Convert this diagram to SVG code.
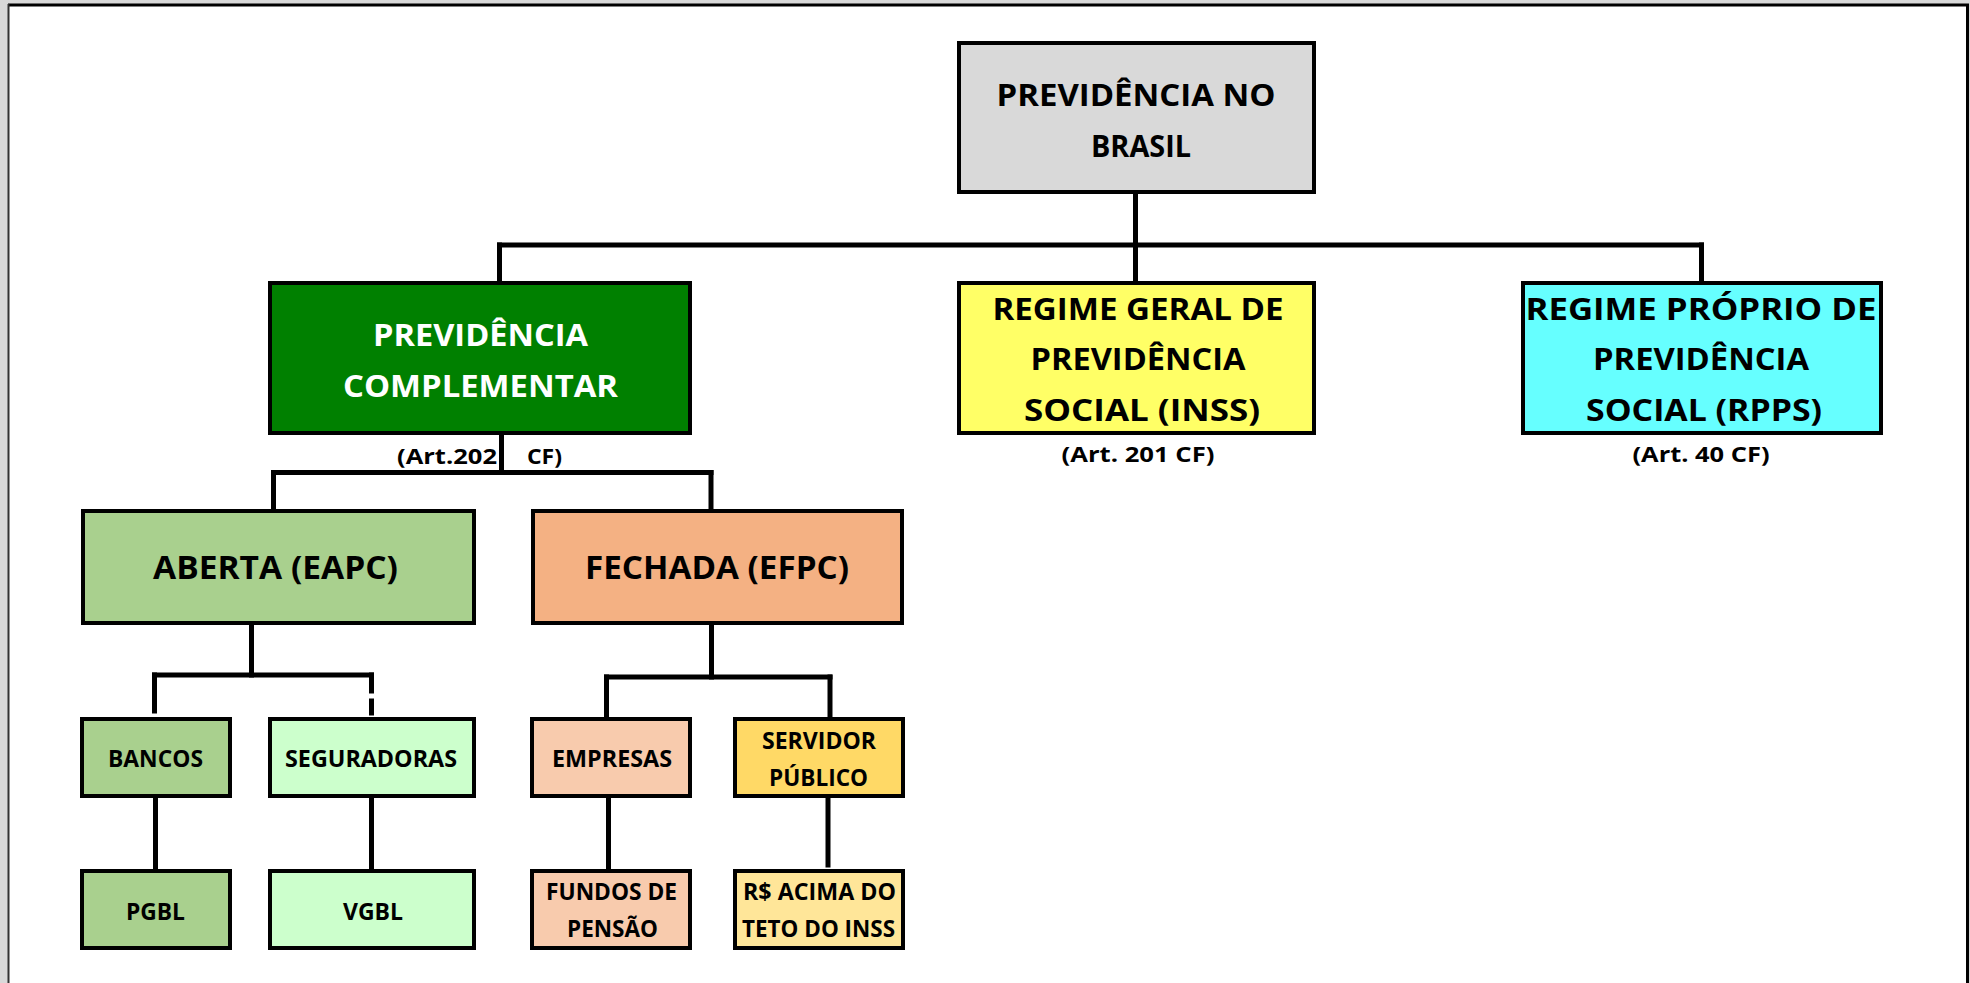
<svg xmlns="http://www.w3.org/2000/svg" width="1970" height="983" viewBox="0 0 1970 983">
<style>
.box{stroke:#000;stroke-width:4}
.t{font-family:'Open Sans','Liberation Sans',sans-serif;font-weight:bold;fill:#000;text-anchor:middle}
.big{font-size:31px}
.mid{font-size:33px}
.sm{font-size:23px}
.art{font-size:22px}
.w{fill:#fff}
.c{stroke:#000;stroke-width:5;fill:none;stroke-linecap:square}
</style>
<rect x="0" y="0" width="1970" height="983" fill="#d9d9d9"/>
<rect x="8" y="5" width="1959" height="990" fill="#fff"/>
<line x1="8" y1="5" x2="1969" y2="5" stroke="#000" stroke-width="3"/>
<line x1="8.5" y1="4" x2="8.5" y2="983" stroke="#333" stroke-width="2"/>
<line x1="1967.5" y1="4" x2="1967.5" y2="983" stroke="#000" stroke-width="3"/>

<g id="connectors">
  <line class="c" x1="1135.5" y1="193" x2="1135.5" y2="281"/>
  <line class="c" x1="499.5" y1="245" x2="1701.5" y2="245"/>
  <line class="c" x1="499.5" y1="245" x2="499.5" y2="281"/>
  <line class="c" x1="1701.5" y1="245" x2="1701.5" y2="281"/>
  <line class="c" x1="501.5" y1="435" x2="501.5" y2="472.5"/>
  <line class="c" x1="273.5" y1="472.5" x2="711" y2="472.5"/>
  <line class="c" x1="273.5" y1="472.5" x2="273.5" y2="508"/>
  <line class="c" x1="711" y1="472.5" x2="711" y2="508"/>
  <line class="c" x1="251.5" y1="625" x2="251.5" y2="675"/>
  <line class="c" x1="154.5" y1="675" x2="371.5" y2="675"/>
  <line class="c" x1="154.5" y1="675" x2="154.5" y2="711"/>
  <line class="c" x1="371.5" y1="675" x2="371.5" y2="691"/>
  <line class="c" x1="371.5" y1="701" x2="371.5" y2="713"/>
  <line class="c" x1="155.5" y1="798" x2="155.5" y2="868"/>
  <line class="c" x1="371.5" y1="798" x2="371.5" y2="868"/>
  <line class="c" x1="711.5" y1="625" x2="711.5" y2="677"/>
  <line class="c" x1="606.5" y1="677" x2="830" y2="677"/>
  <line class="c" x1="606.5" y1="677" x2="606.5" y2="716"/>
  <line class="c" x1="830" y1="677" x2="830" y2="716"/>
  <line class="c" x1="608.5" y1="798" x2="608.5" y2="869"/>
  <line class="c" x1="828" y1="795" x2="828" y2="865"/>
</g>

<g id="root">
  <rect class="box" x="959" y="43" width="355" height="149" fill="#d9d9d9"/>
  <text class="t big" x="1136" y="106" textLength="279" lengthAdjust="spacingAndGlyphs">PREVIDÊNCIA NO</text>
  <text class="t big" x="1141" y="157" textLength="100" lengthAdjust="spacingAndGlyphs">BRASIL</text>
</g>

<g id="complementar">
  <rect class="box" x="270" y="283" width="420" height="150" fill="#008000"/>
  <text class="t big w" x="480.5" y="346" textLength="215" lengthAdjust="spacingAndGlyphs">PREVIDÊNCIA</text>
  <text class="t big w" x="480.5" y="397" textLength="275" lengthAdjust="spacingAndGlyphs">COMPLEMENTAR</text>
  <text class="t art" y="464"><tspan x="497" style="text-anchor:end" textLength="100" lengthAdjust="spacingAndGlyphs">(Art.202</tspan><tspan x="527" style="text-anchor:start" textLength="35" lengthAdjust="spacingAndGlyphs">CF)</tspan></text>
</g>

<g id="rgps">
  <rect class="box" x="959" y="283" width="355" height="150" fill="#ffff66"/>
  <text class="t big" x="1138" y="320" textLength="291" lengthAdjust="spacingAndGlyphs">REGIME GERAL DE</text>
  <text class="t big" x="1138" y="370" textLength="215" lengthAdjust="spacingAndGlyphs">PREVIDÊNCIA</text>
  <text class="t big" x="1142" y="421" textLength="236" lengthAdjust="spacingAndGlyphs">SOCIAL (INSS)</text>
  <text class="t art" x="1138" y="462" textLength="153" lengthAdjust="spacingAndGlyphs">(Art. 201 CF)</text>
</g>

<g id="rpps">
  <rect class="box" x="1523" y="283" width="358" height="150" fill="#66ffff"/>
  <text class="t big" x="1701" y="320" textLength="351" lengthAdjust="spacingAndGlyphs">REGIME PRÓPRIO DE</text>
  <text class="t big" x="1701" y="370" textLength="216" lengthAdjust="spacingAndGlyphs">PREVIDÊNCIA</text>
  <text class="t big" x="1704" y="421" textLength="236" lengthAdjust="spacingAndGlyphs">SOCIAL (RPPS)</text>
  <text class="t art" x="1701" y="462" textLength="137" lengthAdjust="spacingAndGlyphs">(Art. 40 CF)</text>
</g>

<g id="aberta">
  <rect class="box" x="83" y="511" width="391" height="112" fill="#a9d08e"/>
  <text class="t mid" x="275.5" y="579" textLength="245" lengthAdjust="spacingAndGlyphs">ABERTA (EAPC)</text>
</g>

<g id="fechada">
  <rect class="box" x="533" y="511" width="369" height="112" fill="#f4b183"/>
  <text class="t mid" x="717" y="579" textLength="264" lengthAdjust="spacingAndGlyphs">FECHADA (EFPC)</text>
</g>

<g id="bancos">
  <rect class="box" x="82" y="719" width="148" height="77" fill="#a9d08e"/>
  <text class="t sm" x="155.5" y="767" textLength="95" lengthAdjust="spacingAndGlyphs">BANCOS</text>
</g>

<g id="seguradoras">
  <rect class="box" x="270" y="719" width="204" height="77" fill="#ccffcc"/>
  <text class="t sm" x="371" y="767" textLength="172" lengthAdjust="spacingAndGlyphs">SEGURADORAS</text>
</g>

<g id="pgbl">
  <rect class="box" x="82" y="871" width="148" height="77" fill="#a9d08e"/>
  <text class="t sm" x="155.5" y="920" textLength="59" lengthAdjust="spacingAndGlyphs">PGBL</text>
</g>

<g id="vgbl">
  <rect class="box" x="270" y="871" width="204" height="77" fill="#ccffcc"/>
  <text class="t sm" x="373" y="920" textLength="60" lengthAdjust="spacingAndGlyphs">VGBL</text>
</g>

<g id="empresas">
  <rect class="box" x="532" y="719" width="158" height="77" fill="#f8cbad"/>
  <text class="t sm" x="612" y="767" textLength="120" lengthAdjust="spacingAndGlyphs">EMPRESAS</text>
</g>

<g id="servidor">
  <rect class="box" x="735" y="719" width="168" height="77" fill="#ffd966"/>
  <text class="t sm" x="819" y="749" textLength="114" lengthAdjust="spacingAndGlyphs">SERVIDOR</text>
  <text class="t sm" x="818.5" y="786" textLength="99" lengthAdjust="spacingAndGlyphs">PÚBLICO</text>
</g>

<g id="fundos">
  <rect class="box" x="532" y="871" width="158" height="77" fill="#f8cbad"/>
  <text class="t sm" x="611.5" y="900" textLength="131" lengthAdjust="spacingAndGlyphs">FUNDOS DE</text>
  <text class="t sm" x="612.5" y="937" textLength="91" lengthAdjust="spacingAndGlyphs">PENSÃO</text>
</g>

<g id="acima">
  <rect class="box" x="735" y="871" width="168" height="77" fill="#ffe699"/>
  <text class="t sm" x="819.5" y="900" textLength="153" lengthAdjust="spacingAndGlyphs">R$ ACIMA DO</text>
  <text class="t sm" x="818.5" y="937" textLength="153" lengthAdjust="spacingAndGlyphs">TETO DO INSS</text>
</g>
</svg>
